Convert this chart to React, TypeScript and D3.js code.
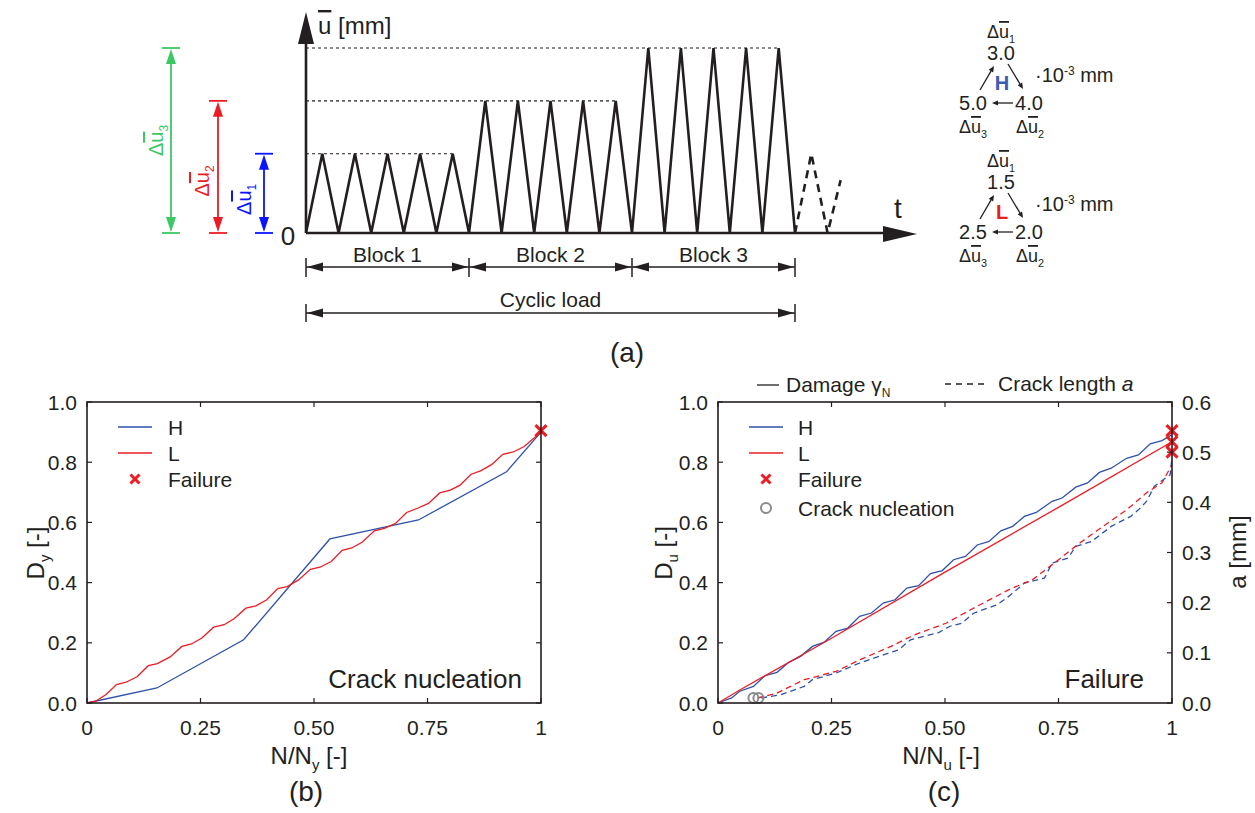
import React from "react";
import * as d3 from "d3";

// ---------- Data ----------
// Panel (a): load history
const blockAmplitudes = [3, 5, 7]; // relative displacement amplitude of each block
const cyclesPerBlock = 5;
const extraCycle = [
  [15, 0],
  [15.5, 3],
  [16, 0],
  [16.4, 2],
];
const blockLabels = ["Block 1", "Block 2", "Block 3"];

// Panel (a) right: sequences (·10^-3 mm)
const seqH = ["3.0", "4.0", "5.0"];
const seqL = ["1.5", "2.0", "2.5"];

// Panel (b): D_y vs N/N_y
const bH: [number, number][] = [
  [0, 0], [0.154, 0.05], [0.345, 0.21], [0.535, 0.545], [0.73, 0.608], [0.924, 0.768], [1.0, 0.9],
];
const bL: [number, number][] = [
  [0, 0], [0.019, 0.006], [0.042, 0.028], [0.065, 0.061], [0.086, 0.069], [0.111, 0.088], [0.135, 0.124],
  [0.155, 0.131], [0.183, 0.153], [0.209, 0.188], [0.23, 0.196], [0.253, 0.216], [0.279, 0.252],
  [0.302, 0.26], [0.324, 0.28], [0.35, 0.315], [0.372, 0.323], [0.396, 0.343], [0.42, 0.38],
  [0.441, 0.387], [0.466, 0.409], [0.492, 0.444], [0.513, 0.451], [0.538, 0.47], [0.562, 0.507],
  [0.583, 0.515], [0.606, 0.534], [0.633, 0.572], [0.655, 0.58], [0.68, 0.597], [0.704, 0.633],
  [0.728, 0.647], [0.752, 0.663], [0.777, 0.698], [0.8, 0.707], [0.821, 0.723], [0.846, 0.76],
  [0.867, 0.771], [0.891, 0.792], [0.916, 0.826], [0.939, 0.834], [0.963, 0.852], [1.0, 0.9],
];
const bFailure: [number, number][] = [[1, 0.905]];

// Panel (c): D_u vs N/N_u (left) and crack length a (right)
const cH: [number, number][] = [
  [0, 0], [0.03, 0.017], [0.048, 0.039], [0.078, 0.055], [0.104, 0.091], [0.13, 0.102], [0.156, 0.135],
  [0.182, 0.155], [0.208, 0.188], [0.234, 0.202], [0.26, 0.238], [0.286, 0.249], [0.312, 0.288],
  [0.338, 0.299], [0.364, 0.332], [0.39, 0.343], [0.416, 0.382], [0.442, 0.39], [0.468, 0.43],
  [0.494, 0.44], [0.519, 0.476], [0.545, 0.487], [0.571, 0.525], [0.597, 0.537], [0.623, 0.572],
  [0.649, 0.587], [0.675, 0.62], [0.701, 0.633], [0.736, 0.67], [0.758, 0.681], [0.788, 0.717],
  [0.814, 0.731], [0.84, 0.766], [0.866, 0.78], [0.9, 0.813], [0.926, 0.824], [0.952, 0.861],
  [0.978, 0.872], [1.0, 0.891],
];
const cL: [number, number][] = [
  [0, 0], [0.05, 0.045], [0.25, 0.215], [0.5, 0.435], [0.75, 0.65], [1.0, 0.868],
];
const cHa: [number, number][] = [
  [0.095, 0.01], [0.139, 0.0166], [0.19, 0.0332], [0.208, 0.0465], [0.26, 0.0598], [0.312, 0.0797],
  [0.355, 0.093], [0.398, 0.106], [0.424, 0.126], [0.485, 0.14], [0.511, 0.153], [0.537, 0.159],
  [0.563, 0.179], [0.615, 0.196], [0.641, 0.213], [0.675, 0.239], [0.719, 0.249], [0.736, 0.279],
  [0.771, 0.289], [0.788, 0.312], [0.823, 0.322], [0.866, 0.352], [0.909, 0.372], [0.926, 0.385],
  [0.944, 0.402], [0.961, 0.432], [0.996, 0.455], [1.0, 0.49],
];
const cLa: [number, number][] = [
  [0.087, 0.01], [0.13, 0.0199], [0.19, 0.0465], [0.26, 0.063], [0.312, 0.086], [0.381, 0.113],
  [0.433, 0.136], [0.502, 0.159], [0.571, 0.193], [0.641, 0.226], [0.693, 0.246], [0.745, 0.282],
  [0.797, 0.319], [0.848, 0.352], [0.9, 0.385], [0.944, 0.419], [0.978, 0.439], [1.0, 0.475],
];
const cFailureD: [number, number][] = [[1, 0.905], [1, 0.868]];
const cFailureA: [number, number][] = [[1, 0.5]];
const cFailCirclesD: [number, number][] = [[1, 0.884], [1, 0.85]];
const cNucleationA: [number, number][] = [[0.078, 0.01], [0.089, 0.01]];

const xTicks = [0, 0.25, 0.5, 0.75, 1];
const xTickLabels = ["0", "0.25", "0.50", "0.75", "1"];
const yTicks = [0, 0.2, 0.4, 0.6, 0.8, 1.0];
const aTicks = [0, 0.1, 0.2, 0.3, 0.4, 0.5, 0.6];

// ---------- Styles ----------
const FONT = "'Liberation Sans', Arial, Helvetica, sans-serif";
const INK = "#231f20";
const BLUE = "#2f51a8";
const RED = "#ec1c24";
const GREEN = "#3cc864";
const TICK_FS = 21;
const LEG_FS = 21;
const LAB_FS = 24;
const PANEL_FS = 28;

const OL = { textDecoration: "overline" } as React.CSSProperties;

function DeltaU({ sub, x, y, fs, fill, anchor = "middle", rotate = 0 }: any) {
  return (
    <text
      x={x}
      y={y}
      fontSize={fs}
      fill={fill}
      textAnchor={anchor}
      transform={rotate ? `rotate(${rotate},${x},${y})` : undefined}
    >
      <tspan>Δ</tspan>
      <tspan style={OL}>u</tspan>
      <tspan fontSize={fs * 0.6} dy={fs * 0.25}>{sub}</tspan>
    </text>
  );
}

function Cross({ x, y, s = 5.5, w = 3 }: any) {
  return (
    <g stroke={RED} strokeWidth={w} strokeLinecap="butt">
      <line x1={x - s} y1={y - s} x2={x + s} y2={y + s} />
      <line x1={x - s} y1={y + s} x2={x + s} y2={y - s} />
    </g>
  );
}

function Frame({ x, y, right }: any) {
  const [x0, x1] = x.range();
  const [y0, y1] = y.range();
  const tl = 5;
  return (
    <g>
      <rect x={x0} y={y1} width={x1 - x0} height={y0 - y1} fill="none" stroke={INK} strokeWidth={1.6} />
      {xTicks.map((t, i) => (
        <g key={"xt" + i}>
          <line x1={x(t)} x2={x(t)} y1={y0} y2={y0 - tl} stroke={INK} strokeWidth={1.2} />
          <line x1={x(t)} x2={x(t)} y1={y1} y2={y1 + tl} stroke={INK} strokeWidth={1.2} />
          <text x={x(t)} y={y0 + 32} fontSize={TICK_FS} textAnchor="middle" fill={INK}>
            {xTickLabels[i]}
          </text>
        </g>
      ))}
      {yTicks.map((t, i) => (
        <g key={"yt" + i}>
          <line x1={x0} x2={x0 + tl} y1={y(t)} y2={y(t)} stroke={INK} strokeWidth={1.2} />
          {!right && <line x1={x1} x2={x1 - tl} y1={y(t)} y2={y(t)} stroke={INK} strokeWidth={1.2} />}
          <text x={x0 - 10} y={y(t) + 7.5} fontSize={TICK_FS} textAnchor="end" fill={INK}>
            {t.toFixed(1)}
          </text>
        </g>
      ))}
      {right &&
        aTicks.map((t, i) => (
          <g key={"at" + i}>
            <line x1={x1} x2={x1 - tl} y1={right(t)} y2={right(t)} stroke={INK} strokeWidth={1.2} />
            <text x={x1 + 10} y={right(t) + 7.5} fontSize={TICK_FS} textAnchor="start" fill={INK}>
              {t.toFixed(1)}
            </text>
          </g>
        ))}
    </g>
  );
}

function Arrowhead({ x, y, dir, len = 16, hw = 4.5 }: any) {
  let pts = "";
  if (dir === "r") pts = `${x},${y} ${x - len},${y - hw} ${x - len},${y + hw}`;
  if (dir === "l") pts = `${x},${y} ${x + len},${y - hw} ${x + len},${y + hw}`;
  if (dir === "u") pts = `${x},${y} ${x - hw},${y + len} ${x + hw},${y + len}`;
  if (dir === "d") pts = `${x},${y} ${x - hw},${y - len} ${x + hw},${y - len}`;
  return <polygon points={pts} fill="currentColor" />;
}

function Sequence({ vals, label, labelColor, dy }: any) {
  const g = (v: number) => v + dy;
  const arrow = (xA: number, yA: number, xB: number, yB: number) => {
    const ang = Math.atan2(yB - yA, xB - xA);
    const L = 6, W = 2.6;
    const bx = xB - L * Math.cos(ang), by = yB - L * Math.sin(ang);
    const px = -Math.sin(ang) * W, py = Math.cos(ang) * W;
    return (
      <g>
        <line x1={xA} y1={yA} x2={bx} y2={by} stroke={INK} strokeWidth={1.3} />
        <polygon points={`${xB},${yB} ${bx + px},${by + py} ${bx - px},${by - py}`} fill={INK} />
      </g>
    );
  };
  return (
    <g fill={INK}>
      <DeltaU sub="1" x={1001} y={g(38)} fs={18} fill={INK} />
      <text x={1001} y={g(60)} fontSize={20} textAnchor="middle">{vals[0]}</text>
      <text x={1002} y={g(90)} fontSize={20} fontWeight="bold" textAnchor="middle" fill={labelColor}>{label}</text>
      <text x={1035} y={g(82)} fontSize={20}>
        ·10<tspan fontSize={12} dy={-7}>-3</tspan><tspan dy={7}> mm</tspan>
      </text>
      <text x={973} y={g(110)} fontSize={20} textAnchor="middle">{vals[2]}</text>
      <text x={1029} y={g(110)} fontSize={20} textAnchor="middle">{vals[1]}</text>
      <DeltaU sub="3" x={973} y={g(133)} fs={18} fill={INK} />
      <DeltaU sub="2" x={1030} y={g(133)} fs={18} fill={INK} />
      {arrow(980, g(90), 994, g(66))}
      {arrow(1008, g(64), 1023, g(89))}
      {arrow(1013, g(103), 992, g(103))}
    </g>
  );
}

function PanelA() {
  const nCyc = blockAmplitudes.length * cyclesPerBlock;
  const xT = d3.scaleLinear().domain([0, nCyc]).range([306, 795]);
  const yU = d3.scaleLinear().domain([0, 7]).range([233, 48]);
  const pts: [number, number][] = [];
  blockAmplitudes.forEach((amp, b) => {
    for (let c = 0; c < cyclesPerBlock; c++) {
      const t0 = b * cyclesPerBlock + c;
      pts.push([t0, 0], [t0 + 0.5, amp]);
    }
  });
  pts.push([nCyc, 0]);
  const line = d3.line<[number, number]>().x((d) => xT(d[0])).y((d) => yU(d[1]));
  const blockEdges = d3.range(blockAmplitudes.length + 1).map((b) => xT(b * cyclesPerBlock));

  const sideArrows = [
    { amp: 7, x: 171, color: GREEN, sub: "3", lx: 163, off: 0 },
    { amp: 5, x: 218, color: RED, sub: "2", lx: 209, off: 14 },
    { amp: 3, x: 264, color: "#0a14ff", sub: "1", lx: 251, off: 6 },
  ];

  return (
    <g>
      {blockAmplitudes.map((amp, b) => (
        <line
          key={"dl" + b}
          x1={xT(0)}
          x2={xT(b * cyclesPerBlock + cyclesPerBlock - 0.5)}
          y1={yU(amp)}
          y2={yU(amp)}
          stroke={INK}
          strokeWidth={1.1}
          strokeDasharray="3,3"
        />
      ))}
      <path d={line(pts) || ""} fill="none" stroke={INK} strokeWidth={2.6} strokeLinejoin="miter" />
      <path
        d={line(extraCycle as [number, number][]) || ""}
        fill="none"
        stroke={INK}
        strokeWidth={2.6}
        strokeDasharray="8,6"
      />
      <line x1={306} x2={306} y1={233} y2={40} stroke={INK} strokeWidth={2.6} />
      <line x1={306} x2={890} y1={233} y2={233} stroke={INK} strokeWidth={2.6} />
      <g color={INK}>
        <Arrowhead x={306} y={12} dir="u" len={32} hw={8} />
        <Arrowhead x={917} y={234} dir="r" len={34} hw={8} />
      </g>
      <text x={318} y={34} fontSize={24} fill={INK}>
        <tspan style={OL}>u</tspan> [mm]
      </text>
      <text x={288} y={245} fontSize={26} fill={INK} textAnchor="middle">0</text>
      <text x={898} y={218} fontSize={28} fill={INK} textAnchor="middle">t</text>

      {sideArrows.map((s, i) => (
        <g key={"sa" + i} color={s.color} stroke={s.color}>
          <line x1={s.x - 9} x2={s.x + 9} y1={yU(s.amp)} y2={yU(s.amp)} strokeWidth={1.8} />
          <line x1={s.x - 9} x2={s.x + 9} y1={yU(0)} y2={yU(0)} strokeWidth={1.8} />
          <line x1={s.x} x2={s.x} y1={yU(s.amp) + 4} y2={yU(0) - 4} strokeWidth={1.8} />
          <g stroke="none">
            <Arrowhead x={s.x} y={yU(s.amp) + 1} dir="u" len={15} hw={5} />
            <Arrowhead x={s.x} y={yU(0) - 1} dir="d" len={15} hw={5} />
          </g>
          <g stroke="none">
            <DeltaU
              sub={s.sub}
              x={s.lx}
              y={(yU(s.amp) + yU(0)) / 2 + s.off}
              fs={20}
              fill={s.color}
              rotate={-90}
            />
          </g>
        </g>
      ))}

      {blockEdges.map((x, i) => (
        <line key={"be" + i} x1={x} x2={x} y1={258} y2={277} stroke={INK} strokeWidth={1.5} />
      ))}
      {blockLabels.map((lab, b) => {
        const xa = blockEdges[b], xb = blockEdges[b + 1];
        return (
          <g key={"bl" + b} color={INK}>
            <line x1={xa} x2={xb} y1={267} y2={267} stroke={INK} strokeWidth={1.5} />
            <Arrowhead x={xa + 1} y={267} dir="l" />
            <Arrowhead x={xb - 1} y={267} dir="r" />
            <text x={(xa + xb) / 2} y={262} fontSize={21} textAnchor="middle" fill={INK}>{lab}</text>
          </g>
        );
      })}
      <g color={INK}>
        <line x1={blockEdges[0]} x2={blockEdges[0]} y1={304} y2={322} stroke={INK} strokeWidth={1.5} />
        <line x1={blockEdges[3]} x2={blockEdges[3]} y1={304} y2={322} stroke={INK} strokeWidth={1.5} />
        <line x1={blockEdges[0]} x2={blockEdges[3]} y1={313} y2={313} stroke={INK} strokeWidth={1.5} />
        <Arrowhead x={blockEdges[0] + 1} y={313} dir="l" />
        <Arrowhead x={blockEdges[3] - 1} y={313} dir="r" />
        <text x={(blockEdges[0] + blockEdges[3]) / 2} y={307} fontSize={21} textAnchor="middle" fill={INK}>
          Cyclic load
        </text>
      </g>
      <text x={627} y={362} fontSize={PANEL_FS} textAnchor="middle" fill={INK}>(a)</text>

      <Sequence vals={seqH} label="H" labelColor="#3a5cb5" dy={0} />
      <Sequence vals={seqL} label="L" labelColor={RED} dy={129} />
    </g>
  );
}

function PanelB() {
  const x = d3.scaleLinear().domain([0, 1]).range([87, 541]);
  const y = d3.scaleLinear().domain([0, 1]).range([703, 402]);
  const line = d3.line<[number, number]>().x((d) => x(d[0])).y((d) => y(d[1]));
  return (
    <g>
      <path d={line(bH) || ""} fill="none" stroke={BLUE} strokeWidth={1.3} />
      <path d={line(bL) || ""} fill="none" stroke={RED} strokeWidth={1.3} />
      {bFailure.map((d, i) => (
        <Cross key={i} x={x(d[0])} y={y(d[1])} />
      ))}
      <Frame x={x} y={y} />
      <line x1={118} x2={152} y1={427} y2={427} stroke={BLUE} strokeWidth={1.3} />
      <text x={168} y={435} fontSize={LEG_FS} fill={INK}>H</text>
      <line x1={118} x2={152} y1={453} y2={453} stroke={RED} strokeWidth={1.3} />
      <text x={168} y={461} fontSize={LEG_FS} fill={INK}>L</text>
      <Cross x={135} y={479} s={4.5} />
      <text x={168} y={487} fontSize={LEG_FS} fill={INK}>Failure</text>
      <text x={522} y={688} fontSize={26} textAnchor="end" fill={INK}>Crack nucleation</text>
      <text x={309} y={764} fontSize={LAB_FS} textAnchor="middle" fill={INK}>
        N/N<tspan fontSize={15} dy={6}>y</tspan><tspan dy={-6}> [-]</tspan>
      </text>
      <text x={306} y={801} fontSize={PANEL_FS} textAnchor="middle" fill={INK}>(b)</text>
      <text x={44} y={553} fontSize={LAB_FS} textAnchor="middle" fill={INK} transform="rotate(-90,44,553)">
        D<tspan fontSize={15} dy={6}>y</tspan><tspan dy={-6}> [-]</tspan>
      </text>
    </g>
  );
}

function PanelC() {
  const x = d3.scaleLinear().domain([0, 1]).range([718, 1172]);
  const y = d3.scaleLinear().domain([0, 1]).range([703, 402]);
  const a = d3.scaleLinear().domain([0, 0.6]).range([703, 402]);
  const lineD = d3.line<[number, number]>().x((d) => x(d[0])).y((d) => y(d[1]));
  const lineA = d3.line<[number, number]>().x((d) => x(d[0])).y((d) => a(d[1]));
  return (
    <g>
      <path d={lineA(cHa) || ""} fill="none" stroke={BLUE} strokeWidth={1.3} strokeDasharray="6,4" />
      <path d={lineA(cLa) || ""} fill="none" stroke={RED} strokeWidth={1.3} strokeDasharray="6,4" />
      <path d={lineD(cH) || ""} fill="none" stroke={BLUE} strokeWidth={1.3} />
      <path d={lineD(cL) || ""} fill="none" stroke={RED} strokeWidth={1.3} />
      {cNucleationA.map((d, i) => (
        <circle key={"n" + i} cx={x(d[0])} cy={a(d[1])} r={5} fill="none" stroke="#8a8a8a" strokeWidth={2} />
      ))}
      {cFailCirclesD.map((d, i) => (
        <circle key={"fc" + i} cx={x(d[0])} cy={y(d[1])} r={4} fill="none" stroke="#555" strokeWidth={1.5} />
      ))}
      {cFailureD.map((d, i) => (
        <Cross key={"fd" + i} x={x(d[0])} y={y(d[1])} />
      ))}
      {cFailureA.map((d, i) => (
        <Cross key={"fa" + i} x={x(d[0])} y={a(d[1])} />
      ))}
      <Frame x={x} y={y} right={a} />
      <line x1={749} x2={783} y1={427} y2={427} stroke={BLUE} strokeWidth={1.3} />
      <text x={798} y={435} fontSize={LEG_FS} fill={INK}>H</text>
      <line x1={749} x2={783} y1={453} y2={453} stroke={RED} strokeWidth={1.3} />
      <text x={798} y={461} fontSize={LEG_FS} fill={INK}>L</text>
      <Cross x={766} y={479} s={4.5} />
      <text x={798} y={487} fontSize={LEG_FS} fill={INK}>Failure</text>
      <circle cx={766} cy={508} r={5} fill="none" stroke="#8a8a8a" strokeWidth={2} />
      <text x={798} y={516} fontSize={LEG_FS} fill={INK}>Crack nucleation</text>
      <line x1={757} x2={779} y1={385} y2={385} stroke={INK} strokeWidth={1.3} />
      <text x={786} y={392} fontSize={21} fill={INK}>
        Damage γ<tspan fontSize={12} dy={5}>N</tspan>
      </text>
      <line x1={945} x2={985} y1={384} y2={384} stroke={INK} strokeWidth={1.3} strokeDasharray="6,5" />
      <text x={998} y={391} fontSize={21} fill={INK}>
        Crack length <tspan fontStyle="italic">a</tspan>
      </text>
      <text x={1144} y={688} fontSize={26} textAnchor="end" fill={INK}>Failure</text>
      <text x={941} y={764} fontSize={LAB_FS} textAnchor="middle" fill={INK}>
        N/N<tspan fontSize={15} dy={6}>u</tspan><tspan dy={-6}> [-]</tspan>
      </text>
      <text x={944} y={801} fontSize={PANEL_FS} textAnchor="middle" fill={INK}>(c)</text>
      <text x={672} y={553} fontSize={LAB_FS} textAnchor="middle" fill={INK} transform="rotate(-90,672,553)">
        D<tspan fontSize={15} dy={6}>u</tspan><tspan dy={-6}> [-]</tspan>
      </text>
      <text x={1246} y={552} fontSize={LAB_FS} textAnchor="middle" fill={INK} transform="rotate(-90,1246,552)">
        a [mm]
      </text>
    </g>
  );
}

export default function App() {
  return (
    <svg
      width={1255}
      height={813}
      viewBox="0 0 1255 813"
      style={{ position: "absolute", left: 0, top: 0, background: "#fff", fontFamily: FONT }}
    >
      <rect x={0} y={0} width={1255} height={813} fill="#fff" />
      <PanelA />
      <PanelB />
      <PanelC />
    </svg>
  );
}
